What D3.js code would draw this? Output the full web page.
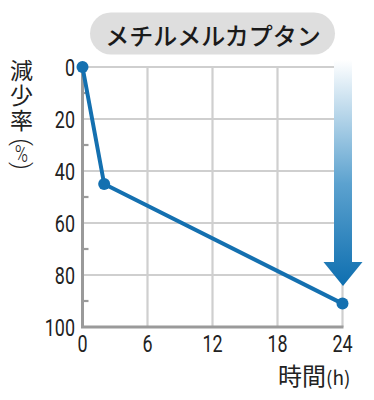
<!DOCTYPE html>
<html><head><meta charset="utf-8">
<script src="https://cdn.jsdelivr.net/npm/d3@7"></script>
<style>
html,body{margin:0;padding:0;background:#fff;}
svg{display:block;}
</style></head>
<body>
<svg id="c" width="374" height="400"></svg>
<script>
const title = "メチルメルカプタン";
const hours = [0, 2, 24];
const reduction = [0, 45, 91];
const xTicks = [0, 6, 12, 18, 24];
const yTicks = [0, 20, 40, 60, 80, 100];
const yMinorTicks = [10, 30, 50, 70, 90];
const yLabel = "減少率";
const yUnit = ["(", "%", ")"];
const xLabel = "時間";
const xUnit = "(h)";

const svg = d3.select("#c");
const x = d3.scaleLinear().domain([0, 24]).range([82.5, 342.5]);
const y = d3.scaleLinear().domain([0, 100]).range([67, 327]);
const numFont = "Roboto,'Liberation Sans',sans-serif";
const jpFont = "'Noto Sans CJK JP','Noto Sans',sans-serif";
const sx = 0.78;

// title pill
svg.append("rect").attr("x", 90).attr("y", 12.5).attr("width", 245).attr("height", 42)
  .attr("rx", 21).attr("fill", "#dedede");
svg.append("text").attr("x", 213).attr("y", 34).attr("text-anchor", "middle")
  .attr("dominant-baseline", "central").attr("font-family", jpFont)
  .attr("font-size", 24).attr("font-weight", 500).attr("fill", "#1a1a1a").text(title);

// grid
const g = svg.append("g");
g.selectAll(".vg").data(xTicks.filter(d => d > 0)).join("line")
  .attr("x1", d => x(d)).attr("x2", d => x(d)).attr("y1", y(0)).attr("y2", y(100))
  .attr("stroke", "#cfcfcf").attr("stroke-width", 2.2);
g.selectAll(".hg").data(yTicks.filter(d => d < 100)).join("line")
  .attr("x1", x(0)).attr("x2", x(24)).attr("y1", d => y(d)).attr("y2", d => y(d))
  .attr("stroke", "#cfcfcf").attr("stroke-width", 2.2);

// arrow with gradient
const defs = svg.append("defs");
const grad = defs.append("linearGradient").attr("id", "ag")
  .attr("gradientUnits", "userSpaceOnUse").attr("x1", 0).attr("x2", 0).attr("y1", 60).attr("y2", 285);
grad.append("stop").attr("offset", 0).attr("stop-color", "#ffffff");
grad.append("stop").attr("offset", 0.55).attr("stop-color", "#5ca2cf");
grad.append("stop").attr("offset", 1).attr("stop-color", "#0f6fb0");
const ax = 343;
svg.append("path")
  .attr("d", `M${ax-9},60 L${ax+9},60 L${ax+9},262 L${ax+19.5},262 L${ax},286 L${ax-19.5},262 L${ax-9},262 Z`)
  .attr("fill", "url(#ag)");

// axes
g.append("line").attr("x1", x(0)).attr("x2", x(0)).attr("y1", y(0) - 1).attr("y2", y(100))
  .attr("stroke", "#9a9a9a").attr("stroke-width", 3);
g.append("line").attr("x1", x(0) - 1.5).attr("x2", x(24) + 1).attr("y1", y(100)).attr("y2", y(100))
  .attr("stroke", "#9a9a9a").attr("stroke-width", 3);
g.selectAll(".mt").data(yMinorTicks).join("line")
  .attr("x1", x(0)).attr("x2", x(0) + 6).attr("y1", d => y(d)).attr("y2", d => y(d))
  .attr("stroke", "#9a9a9a").attr("stroke-width", 2.2);

// tick labels (condensed)
svg.selectAll(".yl").data(yTicks).join("text")
  .attr("transform", d => `translate(75,${y(d) + 8.5}) scale(${sx},1)`).attr("text-anchor", "end")
  .attr("font-family", numFont).attr("font-size", 23).attr("fill", "#222").text(d => d);
svg.selectAll(".xl").data(xTicks).join("text")
  .attr("transform", d => `translate(${x(d)},352) scale(${sx},1)`).attr("text-anchor", "middle")
  .attr("font-family", numFont).attr("font-size", 23).attr("fill", "#222").text(d => d);

// line + dots
const line = d3.line().x((d, i) => x(hours[i])).y(d => y(d));
svg.append("path").datum(reduction).attr("d", line).attr("fill", "none")
  .attr("stroke", "#1470b0").attr("stroke-width", 4).attr("stroke-linejoin", "round");
svg.selectAll(".dot").data(reduction).join("circle")
  .attr("cx", (d, i) => x(hours[i])).attr("cy", d => y(d)).attr("r", 6).attr("fill", "#1470b0");

// y label (vertical writing)
svg.append("text").attr("x", 21.5).attr("y", 59)
  .style("writing-mode", "vertical-rl").attr("font-family", jpFont).attr("font-size", 23)
  .attr("letter-spacing", 2).attr("fill", "#222").text(yLabel);
const unitPos = [142, 154, 166];
yUnit.forEach((ch, i) => {
  const rot = ch === "%" ? "scale(0.78,1)" : "rotate(90)";
  svg.append("text").attr("transform", `translate(21.5,${unitPos[i]}) ${rot}`)
    .attr("text-anchor", "middle").attr("dominant-baseline", "central")
    .attr("font-family", numFont).attr("font-size", ch === "%" ? 23 : 24).attr("font-weight", 300)
    .attr("fill", "#222").text(ch);
});

// x label
const xl = svg.append("text").attr("x", 278).attr("y", 385).attr("font-family", jpFont)
  .attr("font-size", 24).attr("fill", "#222");
xl.append("tspan").text(xLabel);
xl.append("tspan").attr("font-size", 19).text(xUnit);
</script>
</body></html>
